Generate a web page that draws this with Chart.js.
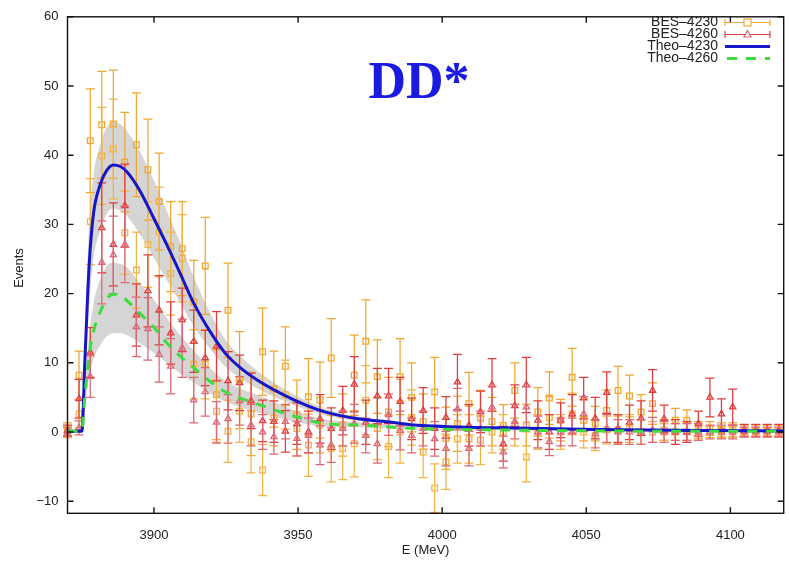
<!DOCTYPE html>
<html>
<head>
<meta charset="utf-8">
<script src="https://cdn.jsdelivr.net/npm/chart.js@4/dist/chart.umd.min.js"></script>
<style>
  html, body { margin: 0; padding: 0; background: #ffffff; }
  #wrap { width: 789px; height: 562px; }
  canvas { display: block; }
</style>
</head>
<body>
<div id="wrap"><canvas id="c" width="789" height="562"></canvas></div>
<script>
// Bin centres (MeV)
const energy = [3870.0, 3874.0, 3877.9, 3881.9, 3885.9, 3889.9, 3893.9, 3897.9, 3901.8, 3905.8,
  3909.8, 3913.8, 3917.8, 3921.7, 3925.7, 3929.7, 3933.7, 3937.7, 3941.6, 3945.6,
  3949.6, 3953.6, 3957.6, 3961.5, 3965.5, 3969.5, 3973.5, 3977.5, 3981.4, 3985.4,
  3989.4, 3993.4, 3997.4, 4001.3, 4005.3, 4009.3, 4013.3, 4017.3, 4021.2, 4025.2,
  4029.2, 4033.2, 4037.2, 4041.1, 4045.1, 4049.1, 4053.1, 4057.1, 4061.0, 4065.0,
  4069.0, 4073.0, 4077.0, 4080.9, 4084.9, 4088.9, 4092.9, 4096.9, 4100.8, 4104.8,
  4108.8, 4112.8, 4116.8];

// BES 4230 data (two channels share one legend entry)
const bes4230a = [0.3, 8.2, 42.1, 44.4, 44.5, 39.0, 41.5, 37.9, 33.3, 26.8,
  26.5, 18.8, 24.0, 5.4, 17.6, 7.5, 2.6, 11.6, 6.2, 9.5,
  2.5, 5.1, 4.6, 10.7, 1.0, 8.2, 13.1, 8.0, 2.9, 8.0,
  5.0, 1.5, 5.8, -0.9, 1.2, 4.1, 2.0, 1.5, 0.95, 6.0,
  1.0, 2.9, 4.9, 1.7, 7.9, 1.7, 1.2, 3.1, 6.0, 5.2,
  2.9, 4.1, 0.3, 1.7, 1.7, 0.3, 0.5, 0.3, 0.3, 0.2,
  0.2, 0.2, 0.2];
const bes4230aErr = [1.0, 3.5, 7.5, 7.7, 7.8, 7.2, 7.5, 7.3, 7.0, 6.5,
  6.8, 6.0, 7.0, 6.5, 6.8, 7.0, 6.0, 6.3, 5.5, 5.7,
  5.0, 5.5, 5.5, 5.7, 4.5, 5.8, 6.0, 5.3, 5.0, 5.5,
  5.0, 4.0, 5.0, 4.5, 4.0, 4.5, 4.0, 3.5, 3.0, 4.0,
  3.0, 3.5, 3.8, 3.0, 4.2, 3.0, 2.5, 3.0, 3.5, 3.0,
  2.5, 3.0, 1.5, 1.7, 1.5, 1.2, 1.0, 1.0, 1.0, 0.8,
  0.8, 0.8, 0.8];
const bes4230b = [0.0, 2.6, 30.4, 39.9, 40.9, 28.8, 23.4, 27.1, 28.9, 22.9,
  25.1, 9.8, 9.8, 3.0, 0.1, 3.0, -1.4, -5.5, 2.0, 5.4,
  0.5, -1.9, 1.0, -2.4, -2.4, -1.7, 4.6, 0.5, -2.1, 0.0,
  2.1, -2.9, -8.1, -4.3, -1.0, -1.0, -1.2, 0.0, 0.0, 1.0,
  -3.6, 0.0, 2.1, 0.0, 2.6, 0.0, -0.5, 0.3, 0.3, 0.5,
  0.0, 0.0, 0.0, 0.0, 0.0, 0.0, 0.0, 0.0, 0.0, 0.0,
  0.0, 0.0, 0.0];
const bes4230bErr = [0.8, 2.0, 6.2, 7.0, 7.2, 6.0, 5.5, 6.2, 6.5, 6.0,
  6.3, 5.0, 5.0, 4.5, 4.5, 4.5, 4.5, 3.7, 4.0, 5.0,
  4.0, 4.5, 4.0, 4.8, 4.5, 4.8, 5.0, 4.5, 4.5, 4.5,
  4.0, 3.7, 3.5, 4.0, 3.5, 3.5, 3.5, 3.0, 2.5, 3.0,
  3.6, 2.5, 3.0, 2.5, 3.0, 2.3, 2.2, 2.0, 2.0, 2.0,
  1.8, 1.5, 1.2, 1.2, 1.2, 1.0, 0.8, 0.8, 0.8, 0.6,
  0.6, 0.6, 0.6];

// BES 4260 data (two channels share one legend entry)
const bes4260a = [0.2, 4.8, 11.5, 29.5, 27.1, 32.7, 16.9, 20.4, 17.6, 14.3,
  16.2, 13.1, 10.7, 12.4, 7.4, 7.1, 4.5, 1.6, 1.5, 0.1,
  1.2, 0.0, 1.9, 0.5, 3.1, 6.9, 1.4, 5.2, 5.2, 4.4,
  1.9, 3.1, 0.5, 2.1, 7.2, 0.95, 2.9, 6.8, -1.7, 3.8,
  6.8, 1.7, 0.0, 1.7, 2.6, 4.9, 2.0, 5.7, 0.5, 1.4,
  2.0, 6.0, 1.9, 0.0, 0.0, 1.2, 5.0, 2.6, 3.6, 0.2,
  0.2, 0.2, 0.2];
const bes4260aErr = [0.8, 2.8, 3.6, 6.5, 6.0, 6.0, 4.5, 5.2, 5.0, 4.5,
  4.6, 4.5, 4.0, 5.0, 4.2, 4.0, 4.0, 3.0, 3.0, 3.0,
  3.0, 3.0, 3.5, 3.0, 3.5, 4.0, 3.2, 4.0, 4.0, 3.5,
  3.0, 3.3, 3.0, 3.0, 4.0, 3.0, 3.0, 3.8, 2.5, 3.0,
  4.0, 2.8, 2.5, 2.5, 2.8, 3.0, 3.0, 3.0, 2.0, 2.5,
  2.5, 3.0, 2.0, 1.8, 1.5, 1.8, 2.8, 2.2, 2.6, 0.9,
  0.9, 0.9, 0.9];
const bes4260b = [0.0, 0.6, 8.0, 24.5, 25.6, 27.1, 15.2, 14.9, 11.2, 9.5,
  12.1, 4.6, 5.8, 1.4, 1.9, 4.5, 1.0, 0.0, -0.7, 1.5,
  -0.95, -0.5, -1.9, -1.9, 0.5, 1.2, -0.5, -1.7, 2.5, 0.2,
  -0.5, 0.5, -1.0, -2.4, 3.3, -2.4, 0.5, 3.6, -2.9, 1.5,
  3.6, 0.0, -1.4, 0.0, 0.0, 2.6, -0.3, 0.5, 0.0, 0.0,
  0.0, 0.3, 0.0, 0.0, 0.0, 0.0, 0.0, 0.0, 0.0, 0.0,
  0.0, 0.0, 0.0];
const bes4260bErr = [0.6, 1.0, 3.0, 6.0, 5.6, 5.5, 4.3, 4.5, 4.0, 4.0,
  4.2, 3.3, 3.5, 3.0, 3.5, 3.5, 3.0, 2.5, 2.5, 2.5,
  2.5, 2.5, 2.8, 2.5, 2.5, 2.8, 2.5, 2.8, 3.0, 2.8,
  2.5, 2.5, 2.5, 2.5, 3.0, 2.5, 2.5, 3.0, 2.3, 2.5,
  3.0, 2.3, 2.0, 2.0, 2.0, 2.5, 2.0, 2.0, 1.8, 1.8,
  1.8, 1.8, 1.5, 1.2, 1.2, 1.2, 1.0, 1.0, 1.0, 0.7,
  0.7, 0.7, 0.7];

// Theory curves and their uncertainty bands
const theoEnergy = [3870.0, 3875.0, 3876.0, 3877.5, 3879.0, 3881.3, 3883.6, 3885.9, 3888.2, 3890.6,
  3895.2, 3899.8, 3904.4, 3909.0, 3913.7, 3919.5, 3924.7, 3929.9, 3936.2, 3947.8,
  3959.3, 3970.9, 3982.5, 3990.5, 4020.0, 4054.0, 4089.0, 4118.5];
const theo4230 = [0.1, 0.1, 10.0, 24.0, 31.5, 35.7, 37.8, 38.6, 38.4, 37.6,
  34.8, 31.0, 27.1, 23.0, 18.7, 14.5, 11.4, 9.3, 7.4, 4.8,
  2.9, 1.9, 1.4, 1.0, 0.6, 0.35, 0.2, 0.15];
const theo4230Lo = [0.0, 0.1, 7.0, 18.0, 25.0, 29.0, 31.5, 32.3, 32.0, 31.2,
  28.5, 25.3, 22.0, 18.8, 15.3, 12.0, 9.5, 7.8, 6.2, 4.0,
  2.4, 1.6, 1.2, 0.85, 0.5, 0.3, 0.15, 0.1];
const theo4230Hi = [0.2, 0.1, 13.0, 30.0, 37.0, 41.5, 44.0, 44.8, 44.5, 43.5,
  40.5, 36.5, 32.0, 27.5, 22.5, 17.2, 13.4, 11.0, 8.7, 5.6,
  3.4, 2.2, 1.6, 1.15, 0.7, 0.4, 0.25, 0.2];
const theo4260 = [0.1, 0.1, 5.0, 11.0, 14.5, 17.3, 19.2, 19.9, 19.8, 19.0,
  17.1, 15.2, 12.9, 11.0, 9.3, 7.3, 5.8, 4.9, 4.0, 2.4,
  1.2, 1.0, 0.7, 0.5, 0.3, 0.15, 0.1, 0.1];
const theo4260Lo = [0.0, 0.1, 3.5, 8.0, 10.5, 12.5, 13.8, 14.3, 14.3, 14.0,
  12.8, 11.5, 10.0, 8.5, 7.2, 5.6, 4.4, 3.6, 2.8, 1.6,
  0.8, 0.7, 0.5, 0.35, 0.2, 0.1, 0.05, 0.05];
const theo4260Hi = [0.2, 0.1, 6.5, 14.0, 18.5, 22.0, 24.0, 24.5, 24.3, 23.8,
  21.5, 19.2, 16.5, 14.0, 11.8, 9.2, 7.4, 6.3, 5.3, 3.3,
  1.8, 1.4, 1.0, 0.7, 0.4, 0.2, 0.15, 0.15];

// Axis ticks
const xTicks = [3900, 3950, 4000, 4050, 4100];
const yTicks = [-10, 0, 10, 20, 30, 40, 50, 60];

const seriesNames = ['BES\u20134230', 'BES\u20134260', 'Theo\u20134230', 'Theo\u20134260'];

const ORANGE = '#f0a832';
const ORANGE_B = '#f3b446';
const RED = '#e03c3c';
const RED_B = '#dc6874';
const BLUE = '#1616c8';
const GREEN = '#3ddc3d';
const BAND = '#d5d5d5';
const FONT = '"Liberation Sans", Arial, Helvetica, sans-serif';

const pts = (xs, ys) => xs.map((x, i) => ({ x: x, y: ys[i] }));

// Vertical error bars with caps, drawn just before each dataset's markers
const errorBars = {
  id: 'errorBars',
  beforeDatasetDraw(chart, args) {
    const ds = chart.data.datasets[args.index];
    if (!ds.errors) return;
    const ctx = chart.ctx;
    const ys = chart.scales.y;
    ctx.save();
    ctx.strokeStyle = ds.borderColor;
    ctx.lineWidth = 1.25;
    ds.data.forEach((p, i) => {
      const el = args.meta.data[i];
      const e = ds.errors[i];
      const x = el.x;
      const top = ys.getPixelForValue(p.y + e);
      const bot = ys.getPixelForValue(p.y - e);
      ctx.beginPath();
      ctx.moveTo(x, top); ctx.lineTo(x, bot);
      ctx.moveTo(x - 4.5, top); ctx.lineTo(x + 4.5, top);
      ctx.moveTo(x - 4.5, bot); ctx.lineTo(x + 4.5, bot);
      ctx.stroke();
    });
    ctx.restore();
  }
};

// Frame, inward ticks, axis titles, heading and key
const decorations = {
  id: 'decorations',
  afterDraw(chart) {
    const ctx = chart.ctx;
    const a = chart.chartArea;
    const xs = chart.scales.x, ys = chart.scales.y;
    ctx.save();
    ctx.strokeStyle = '#111';
    ctx.lineWidth = 1.4;
    ctx.strokeRect(a.left, a.top, a.right - a.left, a.bottom - a.top);
    ctx.beginPath();
    xTicks.forEach(v => {
      const x = xs.getPixelForValue(v);
      ctx.moveTo(x, a.bottom); ctx.lineTo(x, a.bottom - 6);
      ctx.moveTo(x, a.top); ctx.lineTo(x, a.top + 6);
    });
    yTicks.forEach(v => {
      const y = ys.getPixelForValue(v);
      ctx.moveTo(a.left, y); ctx.lineTo(a.left + 6, y);
      ctx.moveTo(a.right, y); ctx.lineTo(a.right - 6, y);
    });
    ctx.stroke();

    // axis titles
    ctx.fillStyle = '#222';
    ctx.font = '13px ' + FONT;
    ctx.textAlign = 'center';
    ctx.textBaseline = 'middle';
    ctx.fillText('E (MeV)', (a.left + a.right) / 2, 550);
    ctx.save();
    ctx.translate(19, 268);
    ctx.rotate(-Math.PI / 2);
    ctx.fillText('Events', 0, 0);
    ctx.restore();

    // heading
    ctx.fillStyle = '#1a1ae0';
    ctx.font = 'bold 52px "Liberation Serif", "Times New Roman", serif';
    ctx.textAlign = 'center';
    ctx.textBaseline = 'alphabetic';
    ctx.fillText('DD*', 419, 98);

    // key
    const rows = [22.5, 34.5, 46.5, 58.5];
    const x0 = 725, x1 = 770, xm = 747.5;
    ctx.font = '14px ' + FONT;
    ctx.textAlign = 'right';
    ctx.textBaseline = 'middle';
    ctx.fillStyle = '#222';
    seriesNames.forEach((n, i) => ctx.fillText(n, 718, rows[i]));

    ctx.lineWidth = 1.2;
    [[ORANGE, 0], [RED, 1]].forEach(([c, i]) => {
      const y = rows[i];
      ctx.strokeStyle = c;
      ctx.beginPath();
      ctx.moveTo(x0, y); ctx.lineTo(x1, y);
      ctx.moveTo(x0, y - 3.5); ctx.lineTo(x0, y + 3.5);
      ctx.moveTo(x1, y - 3.5); ctx.lineTo(x1, y + 3.5);
      ctx.stroke();
    });
    ctx.fillStyle = '#fff';
    ctx.strokeStyle = ORANGE;
    ctx.fillRect(xm - 3.5, rows[0] - 3.5, 7, 7);
    ctx.strokeRect(xm - 3.5, rows[0] - 3.5, 7, 7);
    ctx.strokeStyle = RED_B;
    ctx.beginPath();
    ctx.moveTo(xm, rows[1] - 4); ctx.lineTo(xm + 3.5, rows[1] + 2.5); ctx.lineTo(xm - 3.5, rows[1] + 2.5); ctx.closePath();
    ctx.fill(); ctx.stroke();

    ctx.lineWidth = 3;
    ctx.strokeStyle = BLUE;
    ctx.beginPath(); ctx.moveTo(x0, rows[2]); ctx.lineTo(x1, rows[2]); ctx.stroke();
    ctx.strokeStyle = GREEN;
    ctx.setLineDash([10, 9]);
    ctx.beginPath(); ctx.moveTo(x0 + 2, rows[3]); ctx.lineTo(x1, rows[3]); ctx.stroke();
    ctx.restore();
  }
};

const bandSet = (ys, fill, order) => ({
  type: 'line', data: pts(theoEnergy, ys), fill: fill,
  backgroundColor: BAND, borderWidth: 0, borderColor: 'rgba(0,0,0,0)',
  pointRadius: 0, cubicInterpolationMode: 'monotone', order: order
});

const dataSet = (ys, errs, color, style, order, radius) => ({
  type: 'scatter', data: pts(energy, ys), errors: errs,
  borderColor: color, backgroundColor: 'rgba(0,0,0,0)', borderWidth: 1.3,
  pointStyle: style, pointRadius: radius, order: order, clip: false
});

new Chart(document.getElementById('c'), {
  type: 'scatter',
  data: {
    datasets: [
      bandSet(theo4230Hi, '+1', 9),
      bandSet(theo4230Lo, false, 9),
      bandSet(theo4260Hi, '+1', 8),
      bandSet(theo4260Lo, false, 8),
      Object.assign(dataSet(bes4230a, bes4230aErr, ORANGE, 'rect', 7, 4), { label: seriesNames[0] }),
      dataSet(bes4230b, bes4230bErr, ORANGE_B, 'rect', 6, 4),
      Object.assign(dataSet(bes4260a, bes4260aErr, RED, 'triangle', 5, 3.6), { label: seriesNames[1] }),
      dataSet(bes4260b, bes4260bErr, RED_B, 'triangle', 4, 3.6),
      {
        type: 'line', label: seriesNames[2], data: pts(theoEnergy, theo4230),
        borderColor: BLUE, borderWidth: 3, pointRadius: 0, fill: false,
        cubicInterpolationMode: 'monotone', order: 1
      },
      {
        type: 'line', label: seriesNames[3], data: pts(theoEnergy, theo4260),
        borderColor: GREEN, borderWidth: 3, borderDash: [10, 9], pointRadius: 0, fill: false,
        cubicInterpolationMode: 'monotone', order: 0
      }
    ]
  },
  options: {
    responsive: false,
    animation: false,
    layout: { padding: { top: 10.5, right: 4.7, left: 0, bottom: 0 } },
    plugins: { legend: { display: false }, tooltip: { enabled: false } },
    scales: {
      x: {
        type: 'linear', min: 3870, max: 4118.5,
        afterBuildTicks: s => { s.ticks = xTicks.map(v => ({ value: v })); },
        afterFit: s => { s.height = 48.7; },
        grid: { display: false, drawTicks: false },
        border: { display: false },
        ticks: {
          padding: 14, maxRotation: 0, color: '#222', font: { family: FONT, size: 13 },
          callback: v => String(v)
        }
      },
      y: {
        type: 'linear', min: -11.75, max: 60,
        afterBuildTicks: s => { s.ticks = yTicks.map(v => ({ value: v })); },
        afterFit: s => { s.width = 67.5; },
        grid: { display: false, drawTicks: false },
        border: { display: false },
        ticks: {
          padding: 9, color: '#222', font: { family: FONT, size: 13 },
          callback: v => (v < 0 ? '\u2212' + Math.abs(v) : String(v))
        }
      }
    }
  },
  plugins: [errorBars, decorations]
});
</script>
</body>
</html>
